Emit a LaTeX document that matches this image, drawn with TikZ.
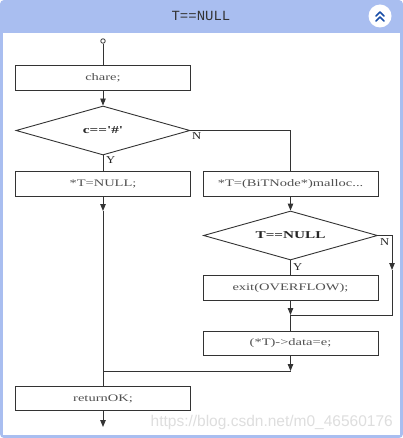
\documentclass[tikz,border=0pt]{standalone}
\usepackage{fontspec}
\usepackage{graphicx}
\setmainfont{Liberation Serif}
\newfontfamily\titlefont{Liberation Mono}
\newfontfamily\wmfont{Liberation Sans}
\usetikzlibrary{shapes.geometric,arrows.meta}
\definecolor{winblue}{HTML}{A9BEF0}
\definecolor{lineclr}{HTML}{333333}
\definecolor{txtclr}{HTML}{505050}
\definecolor{btnblue}{HTML}{1A4FA8}
\newcommand{\widetxt}[1]{\scalebox{1.45}[1]{#1}}
\newcommand{\flattxt}[1]{\makebox[0pt][c]{\scalebox{1.45}[1]{#1}}}
\begin{document}
\begin{tikzpicture}[x=1pt,y=-1pt,
  stepbox/.style={draw=lineclr,line width=0.9pt,minimum width=175pt,minimum height=24.5pt,inner sep=0pt,font=\fontsize{10}{12}\selectfont,text=txtclr},
  decision/.style={draw=lineclr,line width=0.9pt,diamond,minimum width=174pt,minimum height=49pt,inner sep=0pt,font=\bfseries\fontsize{10.5}{12}\selectfont,text=black!85},
  conn/.style={draw=lineclr,line width=0.9pt},
  arr/.style={conn,-{Triangle[length=7pt,width=5.5pt]}},
  lbl/.style={font=\fontsize{10.5}{11}\selectfont,text=black!85,inner sep=0pt}]
\useasboundingbox (0,0) rectangle (403,438);
\fill[winblue, rounded corners=4pt] (0,0) rectangle (403,438);
\fill[white] (3,33) rectangle (400,435);
\node[font=\titlefont\fontsize{14}{16}\selectfont,text=black!80] (title) at (201,16) {T==NULL};
\node[circle,fill=white,minimum size=23pt,inner sep=0pt] (btn) at (380,16) {};
\draw[btnblue,line width=1.6pt,line cap=round,line join=round] (376,16) -- (380,12) -- (384,16) (376,21) -- (380,17) -- (384,21);
% flow nodes
\node[circle,draw=lineclr,line width=0.8pt,minimum size=4.5pt,inner sep=0pt] (start) at (103,41) {};
\node[stepbox] (chare) at (103,78) {\widetxt{chare;}};
\node[decision] (d1) at (103,130.5) {\flattxt{c==\textquotesingle\#\textquotesingle}};
\node[stepbox] (tnull) at (103,184) {\widetxt{*T=NULL;}};
\node[stepbox] (malloc) at (290.5,184) {\widetxt{*T=(BiTNode*)malloc...}};
\node[decision] (d2) at (290.5,235.5) {\flattxt{T==NULL}};
\node[stepbox] (exit) at (290.5,288) {\widetxt{exit(OVERFLOW);}};
\node[stepbox] (data) at (290.5,343.5) {\widetxt{(*T)->data=e;}};
\node[stepbox] (ret) at (103,398.5) {\widetxt{returnOK;}};
% coordinates
\coordinate (n1) at (290.5,130.5);
\coordinate (a1) at (103,211);
\coordinate (m1) at (103,371);
\coordinate (m1r) at (290.5,371);
\coordinate (n2a) at (392,235.5);
\coordinate (n2b) at (392,270);
\coordinate (n2c) at (392,315);
\coordinate (m2) at (290.5,315);
\coordinate (endp) at (103,427);
% connectors
\draw[conn] (start) -- (chare.north);
\draw[arr] (chare.south) -- (d1.north);
\draw[conn] (d1.east) -- (n1) -- (malloc.north);
\draw[conn] (d1.south) -- (tnull.north);
\draw[arr] (tnull.south) -- (a1);
\draw[conn] (a1) -- (ret.north);
\draw[arr] (malloc.south) -- (d2.north);
\draw[conn] (d2.south) -- (exit.north);
\draw[arr] (d2.east) -- (n2a) -- (n2b);
\draw[conn] (n2b) -- (n2c) -- (m2);
\draw[arr] (exit.south) -- (m2);
\draw[conn] (m2) -- (data.north);
\draw[arr] (data.south) -- (m1r);
\draw[conn] (m1r) -- (m1);
\draw[arr] (ret.south) -- (endp);
% labels
\node[lbl,anchor=west] (lN1) at (192,136) {\scalebox{1.2}[1]{N}};
\node[lbl,anchor=west] (lY1) at (106,160) {\scalebox{1.2}[1]{Y}};
\node[lbl,anchor=west] (lN2) at (380,242) {\scalebox{1.2}[1]{N}};
\node[lbl,anchor=west] (lY2) at (293,267) {\scalebox{1.2}[1]{Y}};
\node[font=\wmfont\fontsize{15.5}{17}\selectfont,text=black!13,anchor=east,inner sep=0pt] (wm) at (393,422) {https://blog.csdn.net/m0\_46560176};
\end{tikzpicture}
\end{document}
